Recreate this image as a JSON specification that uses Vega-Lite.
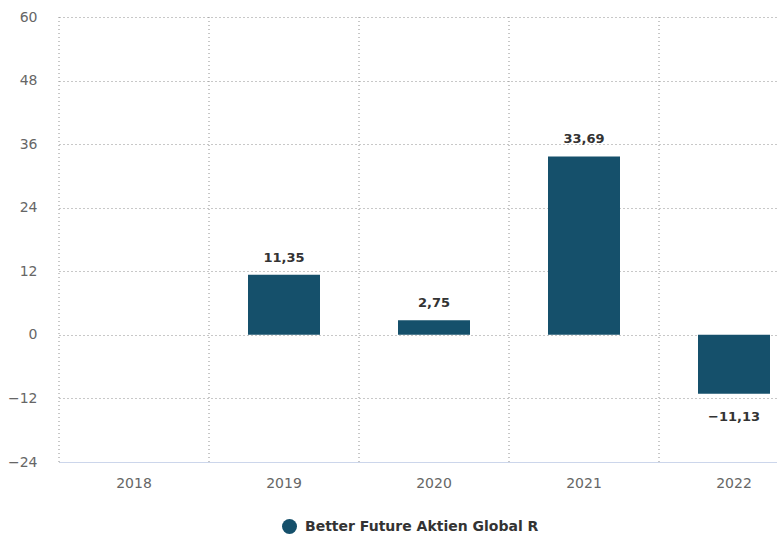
{
  "$schema": "https://vega.github.io/schema/vega-lite/v6.json",
  "autosize": {"type": "none"},
  "width": 718,
  "height": 445,
  "padding": {"left": 59, "top": 17, "right": 0, "bottom": 78},
  "background": "white",
  "config": {
    "locale": {"number": {"decimal": ",", "thousands": ".", "grouping": [3], "currency": ["", " €"]}},
    "view": {"stroke": null},
    "font": "DejaVu Sans"
  },
  "data": {
    "values": [
      {"year": "2018", "value": null, "series": "Better Future Aktien Global R"},
      {"year": "2019", "value": 11.35, "series": "Better Future Aktien Global R"},
      {"year": "2020", "value": 2.75, "series": "Better Future Aktien Global R"},
      {"year": "2021", "value": 33.69, "series": "Better Future Aktien Global R"},
      {"year": "2022", "value": -11.13, "series": "Better Future Aktien Global R"}
    ]
  },
  "layer": [
    {
      "mark": {"type": "rule", "strokeDash": [1, 3], "color": "#909090", "strokeWidth": 1},
      "encoding": {
        "x": {"field": "year", "type": "ordinal", "bandPosition": 0,
          "scale": {"domain": ["2018", "2019", "2020", "2021", "2022"], "range": [0, 750], "paddingInner": 0, "paddingOuter": 0},
          "axis": {"title": null, "labelAngle": 0, "ticks": false, "domain": true, "domainColor": "#ccd6eb", "domainWidth": 1,
            "labelFontSize": 14, "labelColor": "#666666", "labelPadding": 14, "grid": false}}
      }
    },
    {
      "mark": {"type": "bar", "width": {"band": 0.48}},
      "encoding": {
        "x": {"field": "year", "type": "ordinal",
          "scale": {"domain": ["2018", "2019", "2020", "2021", "2022"], "range": [0, 750], "paddingInner": 0, "paddingOuter": 0},
          "axis": {"title": null, "labelAngle": 0, "ticks": false, "domain": true, "domainColor": "#ccd6eb", "domainWidth": 1,
            "labelFontSize": 14, "labelColor": "#666666", "labelPadding": 14, "grid": false}},
        "y": {"field": "value", "type": "quantitative",
          "scale": {"domain": [-24, 60], "nice": false, "zero": false},
          "axis": {"title": null, "values": [-24, -12, 0, 12, 24, 36, 48, 60], "domain": false, "ticks": false,
            "grid": true, "gridDash": [1, 3], "gridColor": "#909090", "gridWidth": 1,
            "labelFontSize": 14, "labelColor": "#666666", "labelPadding": 22, "format": "d"}},
        "color": {"field": "series", "type": "nominal",
          "scale": {"range": ["#15506b"]},
          "legend": {"title": null, "orient": "none", "legendX": 223, "legendY": 502, "padding": 0,
            "symbolType": "circle", "symbolSize": 225, "symbolOpacity": 1, "symbolStrokeWidth": 0,
            "labelFontSize": 14, "labelFontWeight": "bold", "labelColor": "#333333", "labelOffset": 8, "labelLimit": 0}}
      }
    },
    {
      "transform": [{"filter": "isValid(datum.value) && datum.value >= 0"}],
      "mark": {"type": "text", "baseline": "alphabetic", "dy": -13, "fontSize": 13, "fontWeight": "bold", "color": "#333333"},
      "encoding": {
        "x": {"field": "year", "type": "ordinal"},
        "y": {"field": "value", "type": "quantitative"},
        "text": {"field": "value", "type": "quantitative", "format": ".2f"}
      }
    },
    {
      "transform": [{"filter": "isValid(datum.value) && datum.value < 0"}],
      "mark": {"type": "text", "baseline": "alphabetic", "dy": 27, "fontSize": 13, "fontWeight": "bold", "color": "#333333"},
      "encoding": {
        "x": {"field": "year", "type": "ordinal"},
        "y": {"field": "value", "type": "quantitative"},
        "text": {"field": "value", "type": "quantitative", "format": ".2f"}
      }
    }
  ]
}
